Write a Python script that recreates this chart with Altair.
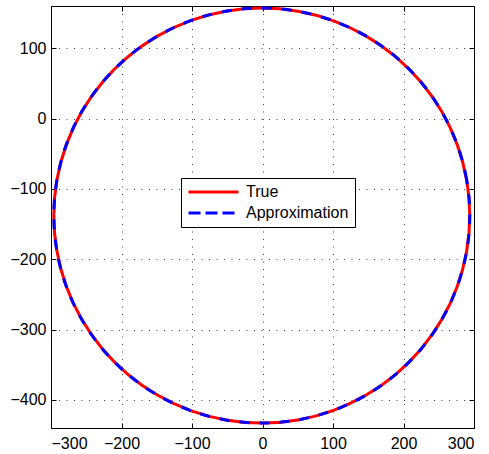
import altair as alt
import pandas as pd

# Points (every 10 degrees round the loop)
x_pts = [294.0, 289.5, 276.2, 254.5, 225.0, 188.6, 146.5, 99.9, 50.2, -1.0,
         -52.2, -101.9, -148.5, -190.6, -227.0, -256.5, -278.2, -291.5, -296.0,
         -291.5, -278.2, -256.5, -227.0, -190.6, -148.5, -101.9, -52.2, -1.0,
         50.2, 99.9, 146.5, 188.6, 225.0, 254.5, 276.2, 289.5]
y_pts = [-138.0, -86.8, -37.1, 9.5, 51.6, 88.0, 117.5, 139.2, 152.5, 157.0,
         152.5, 139.2, 117.5, 88.0, 51.6, 9.5, -37.1, -86.8, -138.0,
         -189.2, -238.9, -285.5, -327.6, -364.0, -393.5, -415.2, -428.5, -433.0,
         -428.5, -415.2, -393.5, -364.0, -327.6, -285.5, -238.9, -189.2]
series_names = ["True", "Approximation"]
series_colors = ["#ff0000", "#0000ff"]
x_ticks = [-300, -200, -100, 0, 100, 200, 300]
y_ticks = [100, 0, -100, -200, -300, -400]

rows = []
for s in series_names:
    for i, (xv, yv) in enumerate(zip(x_pts, y_pts)):
        rows.append({"series": s, "idx": i, "x": xv, "y": yv})
df = pd.DataFrame(rows)

FONT = "Liberation Sans"
xscale = alt.Scale(domain=[-300, 300], nice=False, zero=False)
yscale = alt.Scale(domain=[-440, 160], nice=False, zero=False)

grid_common = dict(ticks=False, domain=False, grid=True, gridDash=[1, 6.5],
                   gridColor="#222222", gridOpacity=0.85, gridWidth=1,
                   labelFontSize=16, labelFont=FONT, labelColor="black",
                   title=None, format="d")
tick_common = dict(labels=False, domain=False, grid=False, ticks=True,
                   tickSize=5, tickColor="black", tickWidth=1, offset=-5,
                   title=None)

base = alt.Chart(df)

true_line = base.transform_filter(alt.datum.series == "True").mark_line(
    color="#ff0000", strokeWidth=3, interpolate="cardinal-closed", clip=True
).encode(
    x=alt.X("x:Q", scale=xscale,
            axis=alt.Axis(orient="bottom", values=x_ticks, labelPadding=7, **grid_common)),
    y=alt.Y("y:Q", scale=yscale,
            axis=alt.Axis(orient="left", values=y_ticks, labelPadding=5, **grid_common)),
    order="idx:Q",
)

approx_line = base.transform_filter(alt.datum.series == "Approximation").mark_line(
    color="#0000ff", strokeWidth=3, strokeDash=[10, 10], interpolate="cardinal-closed", clip=True
).encode(
    x=alt.X("x:Q", scale=xscale, axis=alt.Axis(orient="top", values=x_ticks, **tick_common)),
    y=alt.Y("y:Q", scale=yscale, axis=alt.Axis(orient="right", values=y_ticks, **tick_common)),
    order="idx:Q",
)

legend = alt.Legend(title=None, orient="none", legendX=130, legendY=172,
                    strokeColor="black", fillColor="white", padding=6,
                    symbolType="stroke", symbolSize=2500, symbolStrokeWidth=3,
                    clipHeight=16, rowPadding=5, labelOffset=6,
                    labelFontSize=16, labelFont=FONT, labelColor="black",
                    cornerRadius=0)

legend_layer = base.transform_filter(alt.datum.idx < 0).mark_line(strokeWidth=3).encode(
    x=alt.X("x:Q", scale=xscale, axis=alt.Axis(orient="bottom", values=x_ticks, **tick_common)),
    y=alt.Y("y:Q", scale=yscale, axis=alt.Axis(orient="left", values=y_ticks, **tick_common)),
    color=alt.Color("series:N", scale=alt.Scale(domain=series_names, range=series_colors),
                    legend=legend),
    strokeDash=alt.StrokeDash("series:N",
                              scale=alt.Scale(domain=series_names, range=[[1, 0], [12, 5]]),
                              legend=legend),
    order="idx:Q",
)

chart = alt.layer(true_line, approx_line, legend_layer).resolve_axis(
    x="independent", y="independent"
).properties(
    width=423, height=422,
    padding={"left": 51, "top": 6, "right": 15, "bottom": 26},
    autosize=alt.AutoSizeParams(type="none"),
    background="white",
).configure_view(stroke="black", strokeWidth=1)

chart.save("out.html", embed_options={"renderer": "svg", "actions": False})
